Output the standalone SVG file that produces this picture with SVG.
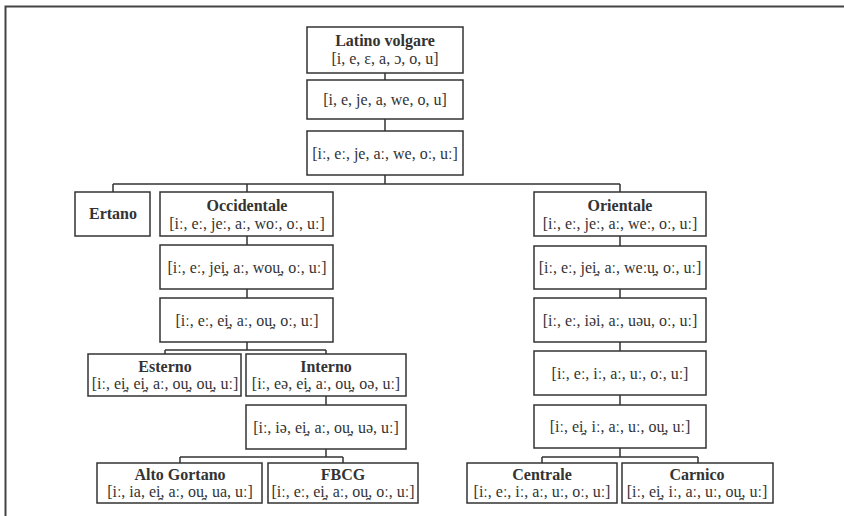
<svg xmlns="http://www.w3.org/2000/svg" width="844" height="516" viewBox="0 0 844 516">
<style>
.b{fill:#fff;stroke:#333;stroke-width:1.5}
.t{font-family:"Liberation Serif","Times New Roman",serif;font-size:16px;fill:#333;text-anchor:middle}
.n{font-weight:bold}
.c{fill:none;stroke:#333;stroke-width:1.5}
</style>
<rect x="0" y="0" width="844" height="516" fill="#fff"/>
<rect x="5.5" y="6.5" width="900" height="600" fill="none" stroke="#444" stroke-width="2"/>
<g id="connectors" class="c">
<path d="M385 73V80M385 119V131M385 175V184M113 184H620M113 184V192M247 184V192M620 184V192"/>
<path d="M247 236V245M247 289V298M247 342V350M165 350H326M165 350V354M326 350V354"/>
<path d="M326 396V405M326 449V457M180 457H343M180 457V463M343 457V463"/>
<path d="M620 236V246M620 289V298M620 342V351M620 395V405M620 448V457M542 457H698M542 457V463M698 457V463"/>
</g>
<g id="latino"><rect class="b" x="307" y="27" width="156" height="46"/><text class="t n" x="385" y="46">Latino volgare</text><text class="t" x="385" y="64">[i, e, ɛ, a, ɔ, o, u]</text></g>
<g id="lv2"><rect class="b" x="307" y="80" width="156" height="39"/><text class="t" x="385" y="105">[i, e, je, a, we, o, u]</text></g>
<g id="lv3"><rect class="b" x="307" y="131" width="156" height="44"/><text class="t" x="385" y="159">[iː, eː, je, aː, we, oː, uː]</text></g>
<g id="ertano"><rect class="b" x="75" y="192" width="75" height="44"/><text class="t n" x="113" y="219">Ertano</text></g>
<g id="occidentale"><rect class="b" x="160" y="192" width="173" height="44"/><text class="t n" x="247" y="211">Occidentale</text><text class="t" x="247" y="229">[iː, eː, jeː, aː, woː, oː, uː]</text></g>
<g id="occ2"><rect class="b" x="160" y="245" width="173" height="44"/><text class="t" x="247" y="273">[iː, eː, jei̯, aː, wou̯, oː, uː]</text></g>
<g id="occ3"><rect class="b" x="160" y="298" width="173" height="44"/><text class="t" x="247" y="326">[iː, eː, ei̯, aː, ou̯, oː, uː]</text></g>
<g id="esterno"><rect class="b" x="88" y="354" width="153" height="42"/><text class="t n" x="165" y="372">Esterno</text><text class="t" x="165" y="389">[iː, ei̯, ei̯, aː, ou̯, ou̯, uː]</text></g>
<g id="interno"><rect class="b" x="246" y="354" width="160" height="42"/><text class="t n" x="326" y="372">Interno</text><text class="t" x="326" y="389">[iː, eə, ei̯, aː, ou̯, oə, uː]</text></g>
<g id="int2"><rect class="b" x="246" y="405" width="160" height="44"/><text class="t" x="326" y="433">[iː, iə, ei̯, aː, ou̯, uə, uː]</text></g>
<g id="altogortano"><rect class="b" x="97" y="463" width="165" height="40"/><text class="t n" x="180" y="480">Alto Gortano</text><text class="t" x="180" y="497">[iː, ia, ei̯, aː, ou̯, ua, uː]</text></g>
<g id="fbcg"><rect class="b" x="268" y="463" width="150" height="40"/><text class="t n" x="343" y="480">FBCG</text><text class="t" x="343" y="497">[iː, eː, ei̯, aː, ou̯, oː, uː]</text></g>
<g id="orientale"><rect class="b" x="534" y="192" width="172" height="44"/><text class="t n" x="620" y="211">Orientale</text><text class="t" x="620" y="229">[iː, eː, jeː, aː, weː, oː, uː]</text></g>
<g id="or2"><rect class="b" x="534" y="246" width="172" height="43"/><text class="t" x="620" y="273">[iː, eː, jei̯, aː, weːu̯, oː, uː]</text></g>
<g id="or3"><rect class="b" x="534" y="298" width="172" height="44"/><text class="t" x="620" y="326">[iː, eː, iəi, aː, uəu, oː, uː]</text></g>
<g id="or4"><rect class="b" x="534" y="351" width="172" height="44"/><text class="t" x="620" y="379">[iː, eː, iː, aː, uː, oː, uː]</text></g>
<g id="or5"><rect class="b" x="534" y="405" width="172" height="43"/><text class="t" x="620" y="432">[iː, ei̯, iː, aː, uː, ou̯, uː]</text></g>
<g id="centrale"><rect class="b" x="467" y="463" width="150" height="40"/><text class="t n" x="542" y="480">Centrale</text><text class="t" x="542" y="497">[iː, eː, iː, aː, uː, oː, uː]</text></g>
<g id="carnico"><rect class="b" x="622" y="463" width="151" height="40"/><text class="t n" x="697" y="480">Carnico</text><text class="t" x="697" y="497">[iː, ei̯, iː, aː, uː, ou̯, uː]</text></g>
</svg>
